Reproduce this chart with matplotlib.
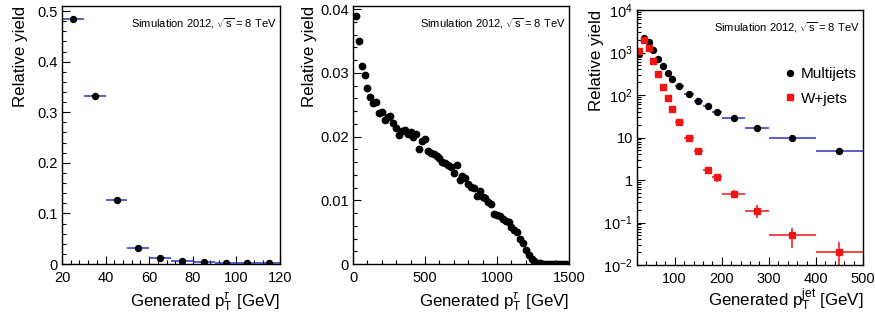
import math
import matplotlib
matplotlib.use('Agg')
import matplotlib.pyplot as plt
from matplotlib.lines import Line2D
from matplotlib.ticker import AutoMinorLocator, MultipleLocator, LogLocator, FuncFormatter, NullFormatter

plt.rcParams['font.family'] = ['Liberation Sans', 'DejaVu Sans']
plt.rcParams['mathtext.fontset'] = 'custom'
plt.rcParams['mathtext.rm'] = 'Liberation Sans'
plt.rcParams['mathtext.it'] = 'Liberation Sans:italic'
plt.rcParams['mathtext.bf'] = 'Liberation Sans:bold'

# 左: 生成タウの pT 分布
tau_lo_x = [25, 35, 45, 55, 65, 75, 85, 95, 105, 115]
tau_lo_y = [0.484, 0.332, 0.127, 0.031, 0.012, 0.006, 0.003, 0.002, 0.001, 0.001]

# 中央: 高い pT まで (20 GeV ビン)
tau_hi_x = list(range(20, 1500, 20))
tau_hi_y = [0.0389, 0.0350, 0.0311, 0.0297, 0.0277, 0.0262, 0.0252, 0.0255, 0.0237, 0.0239,
            0.0226, 0.0231, 0.0232, 0.0221, 0.0214, 0.0203, 0.0208, 0.0210, 0.0204, 0.0207,
            0.0199, 0.0204, 0.0180, 0.0193, 0.0196, 0.0177, 0.0175, 0.0172, 0.0169, 0.0166,
            0.0160, 0.0158, 0.0155, 0.0152, 0.0143, 0.0156, 0.0132, 0.0138, 0.0135, 0.0125,
            0.0121, 0.0119, 0.0106, 0.0115, 0.0105, 0.0104, 0.0097, 0.0094, 0.0078, 0.0077,
            0.0075, 0.0071, 0.0068, 0.0066, 0.0058, 0.0054, 0.0050, 0.0040, 0.0033, 0.0022,
            0.0014, 0.0008, 0.0004, 0.0002, 0.0001, 0.00005, 0.00002, 0.00001, 0.0, 0.0,
            0.0, 0.0, 0.0, 0.0]

# 右: ジェット pT (Multijets / W+jets)
jet_x = [25, 35, 45, 55, 65, 75, 85, 95, 110, 130, 150, 170, 190, 225, 275, 350, 450]
jet_xerr = [5, 5, 5, 5, 5, 5, 5, 5, 10, 10, 10, 10, 10, 25, 25, 50, 50]
multijet_y = [900, 2200, 1800, 1150, 700, 480, 330, 240, 165, 108, 72, 56, 40, 28, 17, 9.5, 4.8]
wjets_y = [1100, 2000, 1300, 630, 310, 155, 85, 48, 23, 10, 4.7, 1.7, 1.15, 0.48, 0.19, 0.05, 0.02]
wjets_err = [0, 0, 0, 0, 0, 0, 0, 0, 0, 0, 0.3, 0.25, 0.25, 0.1, 0.065, 0.025, 0.015]

BLUE = '#2a35c0'
RED = '#f01515'

fig = plt.figure(figsize=(8.75, 3.22), dpi=100)
ax1 = fig.add_axes([62/875, 1-264/322, 218/875, 258/322])
ax2 = fig.add_axes([353/875, 1-264/322, 216/875, 258/322])
ax3 = fig.add_axes([637/875, 1-265/322, 226/875, 255/322])


def style(ax, xlab, ylab_x, xlab_y):
    for s in ax.spines.values():
        s.set_linewidth(1.0)
    ax.tick_params(which='both', direction='in', top=False, right=False, labelsize=10.5)
    ax.tick_params(axis='x', pad=5)
    ax.tick_params(axis='y', pad=3)
    ax.tick_params(which='major', length=6, width=0.8)
    ax.tick_params(which='minor', length=3, width=0.8)
    ax.text(0.985, 0.93, r'Simulation 2012, $\sqrt{\mathrm{s}}$ = 8 TeV', transform=ax.transAxes,
            ha='right', va='center', fontsize=8)
    ax.set_ylabel('Relative yield', fontsize=12.2)
    ax.yaxis.set_label_coords(ylab_x, 1.0)
    ax.yaxis.label.set_ha('right')
    ax.set_xlabel(xlab, fontsize=12.2)
    ax.xaxis.set_label_coords(1.0, xlab_y)
    ax.xaxis.label.set_ha('right')


zero_fmt = FuncFormatter(lambda v, p: '0' if v == 0 else '%g' % v)

# 左パネル
ax1.errorbar(tau_lo_x, tau_lo_y, xerr=5, yerr=0.0015, fmt='o', color='black', ms=4.3,
             ecolor=BLUE, elinewidth=1.1, capsize=0)
ax1.set_xlim(20, 120)
ax1.set_ylim(0, 0.51)
ax1.xaxis.set_major_locator(MultipleLocator(20))
ax1.xaxis.set_minor_locator(AutoMinorLocator(5))
ax1.yaxis.set_major_locator(MultipleLocator(0.1))
ax1.yaxis.set_minor_locator(AutoMinorLocator(5))
ax1.yaxis.set_major_formatter(zero_fmt)
style(ax1, r'Generated $\mathrm{p}_{\mathrm{T}}^{\tau}$ [GeV]', -0.158, -0.105)

# 中央パネル
ax2.errorbar(tau_hi_x, tau_hi_y, xerr=10, yerr=0.0004, fmt='o', color='black', ms=4.6,
             ecolor=BLUE, elinewidth=1.0, capsize=0)
ax2.set_xlim(0, 1500)
ax2.set_ylim(0, 0.0405)
ax2.xaxis.set_major_locator(MultipleLocator(500))
ax2.xaxis.set_minor_locator(AutoMinorLocator(5))
ax2.yaxis.set_major_locator(MultipleLocator(0.01))
ax2.yaxis.set_minor_locator(AutoMinorLocator(5))
ax2.yaxis.set_major_formatter(zero_fmt)
style(ax2, r'Generated $\mathrm{p}_{\mathrm{T}}^{\tau}$ [GeV]', -0.167, -0.105)

# 右パネル
ax3.errorbar(jet_x, multijet_y, xerr=jet_xerr, fmt='o', color='black', ms=4.3,
             ecolor=BLUE, elinewidth=1.1, capsize=0)
ax3.errorbar(jet_x, wjets_y, xerr=jet_xerr, yerr=wjets_err, fmt='s', color=RED, ms=4.7,
             ecolor=RED, elinewidth=1.1, capsize=0)
ax3.set_yscale('log')
ax3.set_xlim(20, 500)
ax3.set_ylim(0.01, 1e4)
ax3.xaxis.set_major_locator(MultipleLocator(100))
ax3.xaxis.set_minor_locator(AutoMinorLocator(5))
ax3.yaxis.set_major_locator(LogLocator(base=10, numticks=10))
ax3.yaxis.set_minor_locator(LogLocator(base=10, subs=range(2, 10), numticks=20))
ax3.yaxis.set_minor_formatter(NullFormatter())


def logfmt(v, p):
    if abs(v - 1) < 1e-9:
        return '1'
    if abs(v - 10) < 1e-9:
        return '10'
    return r'$10^{%d}$' % int(round(math.log10(v)))


ax3.yaxis.set_major_formatter(FuncFormatter(logfmt))
style(ax3, r'Generated $\mathrm{p}_{\mathrm{T}}^{\mathrm{jet}}$ [GeV]', -0.148, -0.085)

handles = [Line2D([], [], marker='o', color='black', ls='none', ms=4.3),
           Line2D([], [], marker='s', color=RED, ls='none', ms=4.7)]
ax3.legend(handles, ['Multijets', 'W+jets'], loc='upper right', bbox_to_anchor=(1.035, 0.83),
           frameon=False, fontsize=11, handletextpad=0.2, labelspacing=0.7, handlelength=1.0)

fig.savefig('out.png', dpi=100)
